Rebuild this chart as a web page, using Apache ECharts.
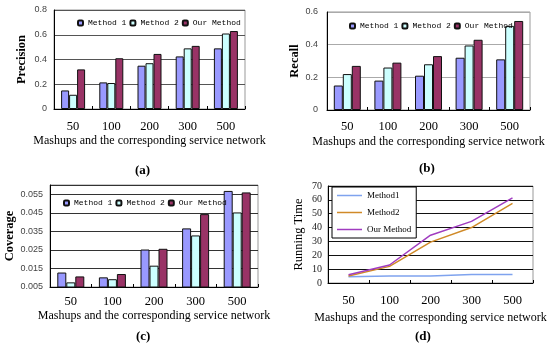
<!DOCTYPE html>
<html>
<head>
<meta charset="utf-8">
<script src="https://cdn.jsdelivr.net/npm/echarts@6/dist/echarts.min.js"></script>
<style>
html,body{margin:0;padding:0;background:#fff;}
#wrap{position:relative;width:550px;height:348px;overflow:hidden;}
.pane{position:absolute;left:0;top:0;width:550px;height:348px;}
</style>
</head>
<body>
<div id="wrap">
<div class="pane" id="ca"></div>
<div class="pane" id="cb"></div>
<div class="pane" id="cc"></div>
<div class="pane" id="cd"></div>
</div>
<script>
// ---- data ----
const categories = ['50', '100', '200', '300', '500'];
const barNames = ['Method 1', 'Method 2', 'Our Method'];
const lineNames = ['Method1', 'Method2', 'Our Method'];

const precisionM1 = [0.15, 0.215, 0.35, 0.425, 0.49];
const precisionM2 = [0.115, 0.21, 0.37, 0.49, 0.61];
const precisionOur = [0.32, 0.41, 0.445, 0.51, 0.63];

const recallM1 = [0.15, 0.18, 0.21, 0.32, 0.31];
const recallM2 = [0.22, 0.26, 0.28, 0.395, 0.515];
const recallOur = [0.27, 0.29, 0.33, 0.43, 0.545];

const coverageM1 = [0.0128, 0.0102, 0.0252, 0.0366, 0.0568];
const coverageM2 = [0.0075, 0.0092, 0.0165, 0.0328, 0.0452];
const coverageOur = [0.0107, 0.0120, 0.0256, 0.0443, 0.0560];

const timeM1 = [4.5, 5, 5, 6.2, 6.2];
const timeM2 = [5, 12, 29.5, 40, 57.5];
const timeOur = [6, 13, 34.5, 44.5, 61.5];

const xTitle = 'Mashups and the corresponding service network';

// ---- style ----
const SERIF = '"Liberation Serif", "Times New Roman", serif';
const MONO = '"Liberation Mono", monospace';
const SANS = '"Liberation Sans", Arial, sans-serif';
const barColors = ['#9999FF', '#CCFFFF', '#993366'];
const lineColors = ['#7FA3EE', '#D08A28', '#A03CC0'];
const LINE_ICON = 'path://M0,0L50,0L50,3L0,3Z';

function barPanel(cfg) {
  return {
    backgroundColor: 'transparent',
    animation: false,
    title: {
      text: cfg.label, left: cfg.labelX, top: cfg.labelY, padding: 0,
      textStyle: {fontFamily: SERIF, fontSize: 13, fontWeight: 'bold', color: '#000'}
    },
    legend: {
      data: barNames, left: cfg.legX, top: cfg.legY, padding: 0,
      itemWidth: 5, itemHeight: 5, itemGap: 3,
      textStyle: {fontFamily: MONO, fontSize: 8, color: '#000'}
    },
    grid: {
      left: cfg.grid[0], top: cfg.grid[1], width: cfg.grid[2], height: cfg.grid[3],
      show: true, borderColor: '#999', borderWidth: 1, backgroundColor: 'transparent'
    },
    xAxis: {
      type: 'category', data: categories,
      name: xTitle, nameLocation: 'middle', nameGap: cfg.xNameGap,
      nameTextStyle: {fontFamily: SERIF, fontSize: 12, color: '#000'},
      axisLine: {lineStyle: {color: '#000', width: 1}},
      axisTick: {show: true, inside: true, length: 3, lineStyle: {color: '#000'}},
      axisLabel: {fontFamily: SERIF, fontSize: 12.5, color: '#000', margin: cfg.xLabelMargin},
      splitLine: {show: false}
    },
    yAxis: {
      type: 'value', min: cfg.min, max: cfg.max, interval: cfg.interval,
      name: cfg.yName, nameLocation: 'middle', nameGap: cfg.yNameGap, nameRotate: 90,
      nameTextStyle: {fontFamily: SERIF, fontSize: 12.5, fontWeight: 'bold', color: '#000'},
      axisLine: {show: true, lineStyle: {color: '#000', width: 1}},
      axisTick: {show: false},
      axisLabel: {fontFamily: SANS, fontSize: 9, color: '#444', margin: cfg.yLabelMargin,
        showMaxLabel: cfg.showMax, formatter: v => cfg.fmt(v)},
      splitLine: {show: true, lineStyle: {color: cfg.gridColor, width: 1}}
    },
    series: cfg.values.map((vals, i) => ({
      name: barNames[i], type: 'bar', data: vals, barWidth: cfg.barWidth, barGap: '0%',
      itemStyle: {color: barColors[i], borderColor: '#111', borderWidth: 1}
    }))
  };
}

const chartA = echarts.init(document.getElementById('ca'));
chartA.setOption(barPanel({
  label: '(a)', labelX: 135, labelY: 164,
  legX: 77, legY: 19,
  grid: [54, 10, 191, 99],
  xNameGap: 26, xLabelMargin: 11,
  min: 0, max: 0.8, interval: 0.2, showMax: true,
  fmt: v => (v === 0 ? '0' : v.toFixed(1)),
  yName: 'Precision', yNameGap: 26, yLabelMargin: 7,
  gridColor: '#555', barWidth: 8,
  values: [precisionM1, precisionM2, precisionOur]
}));

const chartB = echarts.init(document.getElementById('cb'));
chartB.setOption(barPanel({
  label: '(b)', labelX: 419, labelY: 162,
  legX: 349, legY: 22,
  grid: [327, 12, 203, 98],
  xNameGap: 26, xLabelMargin: 10,
  min: 0, max: 0.6, interval: 0.2, showMax: true,
  fmt: v => (v === 0 ? '0' : v.toFixed(1)),
  yName: 'Recall', yNameGap: 24, yLabelMargin: 9,
  gridColor: '#aaa', barWidth: 9,
  values: [recallM1, recallM2, recallOur]
}));

const chartC = echarts.init(document.getElementById('cc'));
chartC.setOption(barPanel({
  label: '(c)', labelX: 136, labelY: 330,
  legX: 63, legY: 199,
  grid: [50, 185, 208, 102],
  xNameGap: 23, xLabelMargin: 8,
  min: 0.005, max: 0.06, interval: 0.01, showMax: false,
  fmt: v => v.toFixed(3),
  yName: 'Coverage', yNameGap: 31, yLabelMargin: 7,
  gridColor: '#333', barWidth: 9,
  values: [coverageM1, coverageM2, coverageOur]
}));

const chartD = echarts.init(document.getElementById('cd'));
chartD.setOption({
  backgroundColor: 'transparent',
  animation: false,
  title: {
    text: '(d)', left: 415, top: 330, padding: 0,
    textStyle: {fontFamily: SERIF, fontSize: 13, fontWeight: 'bold', color: '#000'}
  },
  legend: {
    data: lineNames.map(n => ({name: n, icon: LINE_ICON})),
    orient: 'vertical', left: 332, top: 187,
    padding: [4, 5, 4, 5], itemGap: 8, itemWidth: 25, itemHeight: 9,
    borderColor: '#000', borderWidth: 1, backgroundColor: '#fff',
    textStyle: {fontFamily: SERIF, fontSize: 9, color: '#000'}
  },
  grid: {left: 328, top: 186, width: 205, height: 97, show: true, borderColor: '#999', borderWidth: 1},
  xAxis: {
    type: 'category', data: categories,
    name: xTitle, nameLocation: 'middle', nameGap: 29,
    nameTextStyle: {fontFamily: SERIF, fontSize: 12, color: '#000'},
    axisLine: {lineStyle: {color: '#000'}},
    axisTick: {show: true, inside: true, length: 3, lineStyle: {color: '#000'}},
    axisLabel: {fontFamily: SERIF, fontSize: 12.5, color: '#000', margin: 11}
  },
  yAxis: {
    type: 'value', min: 0, max: 70, interval: 10,
    name: 'Running Time', nameLocation: 'middle', nameGap: 23, nameRotate: 90,
    nameTextStyle: {fontFamily: SERIF, fontSize: 12.5, color: '#000'},
    axisLine: {show: true, lineStyle: {color: '#000'}},
    axisTick: {show: false},
    axisLabel: {fontFamily: SERIF, fontSize: 10, color: '#222', margin: 6},
    splitLine: {show: true, lineStyle: {color: '#111', width: 1}}
  },
  series: [timeM1, timeM2, timeOur].map((vals, i) => ({
    name: lineNames[i], type: 'line', data: vals, symbol: 'none', showSymbol: false,
    lineStyle: {color: lineColors[i], width: 1.5}, itemStyle: {color: lineColors[i]}
  }))
});
</script>
</body>
</html>
